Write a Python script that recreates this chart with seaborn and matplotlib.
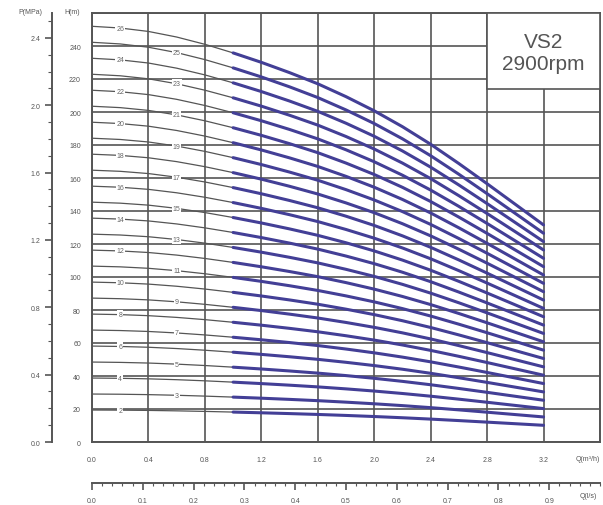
import numpy as np
import pandas as pd
import matplotlib.pyplot as plt
import seaborn as sns
from matplotlib.patches import Rectangle
from matplotlib.ticker import MultipleLocator, FormatStrFormatter

# Pump curves VS2 @ 2900rpm
stages = list(range(2, 27))
flow_m3h = [0.0, 0.2, 0.4, 0.6, 0.8, 1.0, 1.2, 1.4, 1.6, 1.8,
            2.0, 2.2, 2.4, 2.6, 2.8, 3.0, 3.2]
head_per_stage = [9.69, 9.65, 9.57, 9.44, 9.27, 9.07, 8.85, 8.61, 8.35, 8.05,
                  7.72, 7.35, 6.94, 6.49, 6.02, 5.54, 5.06]
work_start = 1.0   # start of the (blue) operating range

rows = []
for n in stages:
    for q, h in zip(flow_m3h, head_per_stage):
        rows.append({"stages": n, "Q": q, "H": n * h})
df = pd.DataFrame(rows)

sns.set_style("white")
plt.rcParams["font.family"] = ["Liberation Sans", "DejaVu Sans"]

fig = plt.figure(figsize=(6.03, 5.06), dpi=100)
ax = fig.add_axes([92 / 603, 1 - 443 / 506, 508 / 603, 429 / 506])

grid_c = "#555555"
curve_c = "#555555"
blue = "#433f96"

for n in stages:
    d = df[df["stages"] == n]
    sns.lineplot(data=d, x="Q", y="H", color=curve_c, lw=0.9, ax=ax, zorder=2)
    dw = d[d["Q"] >= work_start]
    sns.lineplot(data=dw, x="Q", y="H", color=blue, lw=2.2, ax=ax, zorder=3)
    # stage label on the thin part
    q_lab = 0.2 if n % 2 == 0 else 0.6
    h_lab = d.loc[np.isclose(d["Q"], q_lab), "H"].iloc[0]
    ax.text(q_lab, h_lab, str(n), fontsize=5, color="#666666", ha="center", va="center",
            zorder=4, bbox=dict(facecolor="white", edgecolor="none", pad=0.6))

ax.set_xlim(0, 3.6)
ax.set_ylim(0, 260)
ax.xaxis.set_minor_locator(MultipleLocator(0.2))
ax.yaxis.set_minor_locator(MultipleLocator(10))
ax.set_xlabel("")
ax.set_ylabel("")

xt = [round(0.4 * i, 1) for i in range(9)]
ax.set_xticks(xt + [3.6])
ax.set_xticklabels([f"{v:.1f}" for v in xt] + [""])
yt = list(range(0, 260, 20))
ax.set_yticks(yt + [260])
ax.set_yticklabels([str(v) for v in yt] + [""])
ax.grid(True, which="major", color=grid_c, lw=1.2, zorder=1)
ax.set_axisbelow(True)
ax.tick_params(axis="both", which="major", length=5, width=1.2, color=grid_c,
               labelsize=5, labelcolor="#555555", direction="out")
ax.tick_params(axis="both", which="minor", length=3, width=0.8, color=grid_c)
ax.tick_params(axis="y", pad=3)
ax.tick_params(axis="x", pad=5)
for s in ax.spines.values():
    s.set_color(grid_c)
    s.set_linewidth(1.4)

# title box
ax.add_patch(Rectangle((2.8, 214), 0.8, 46, facecolor="white", edgecolor=grid_c,
                       lw=1.2, zorder=5))
ax.text(3.2, 236, "VS2\n2900rpm", fontsize=15, color="#555555", ha="center",
        va="center", linespacing=1.15, zorder=6)

# pressure axis
pax = ax.secondary_yaxis(-40 / 508, functions=(lambda h: h * 0.0098, lambda p: p / 0.0098))
pax.set_yticks([0.0, 0.4, 0.8, 1.2, 1.6, 2.0, 2.4])
pax.yaxis.set_major_formatter(FormatStrFormatter("%.1f"))
pax.yaxis.set_minor_locator(MultipleLocator(0.1))
pax.tick_params(which="major", length=5, width=1.2, color=grid_c, labelsize=5,
                labelcolor="#555555")
pax.tick_params(which="minor", length=3, width=0.8, color=grid_c)
pax.spines["left"].set_color(grid_c)
pax.spines["left"].set_linewidth(1.4)

# flow in l/s
qax = ax.secondary_xaxis(-41 / 429, functions=(lambda q: q / 3.6, lambda q: q * 3.6))
qax.set_xticks([round(0.1 * i, 1) for i in range(10)])
qax.xaxis.set_major_formatter(FormatStrFormatter("%.1f"))
qax.xaxis.set_minor_locator(MultipleLocator(0.02))
qax.tick_params(which="major", length=5, width=1.2, color=grid_c, labelsize=5,
                labelcolor="#555555", pad=5)
qax.tick_params(which="minor", length=2.5, width=0.8, color=grid_c)
qax.spines["bottom"].set_color(grid_c)
qax.spines["bottom"].set_linewidth(1.4)

lab = dict(fontsize=5, color="#555555", ha="center", va="center")
fig.text(30 / 603, 1 - 12 / 506, "P(MPa)", **lab)
fig.text(72 / 603, 1 - 12 / 506, "H(m)", **lab)
fig.text(588 / 603, 1 - 460 / 506, "Q(m³/h)", **lab)
fig.text(588 / 603, 1 - 497 / 506, "Q(l/s)", **lab)

fig.savefig("out.png", dpi=100, facecolor="white")
